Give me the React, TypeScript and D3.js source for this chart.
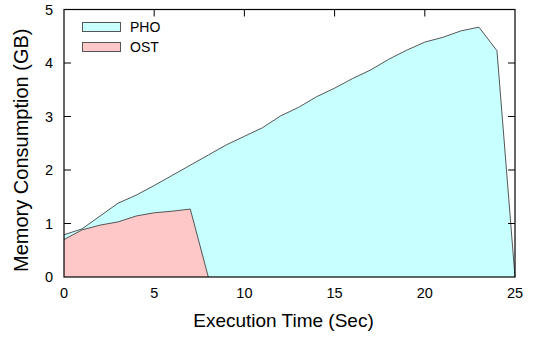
import * as d3 from 'd3';

// execution time (sec)
const phoTime = [0, 1, 2, 3, 4, 5, 6, 7, 8, 9, 10, 11, 12, 13, 14, 15, 16, 17, 18, 19, 20, 21, 22, 23, 24, 25];
const phoMem = [0.79, 0.9, 1.14, 1.38, 1.53, 1.71, 1.9, 2.09, 2.28, 2.47, 2.63, 2.79, 3.01, 3.17, 3.37, 3.53, 3.71, 3.87, 4.07, 4.24, 4.39, 4.48, 4.6, 4.67, 4.23, 0];
const ostTime = [0, 1, 2, 3, 4, 5, 6, 7, 8];
const ostMem = [0.7, 0.88, 0.97, 1.03, 1.14, 1.2, 1.23, 1.27, 0];
const xTicks = [0, 5, 10, 15, 20, 25];
const yTicks = [0, 1, 2, 3, 4, 5];
const legendLabels = ['PHO', 'OST'];

const width = 535;
const height = 337;
const margin = { top: 9.5, right: 20, bottom: 60, left: 64 };
const font = '"Liberation Sans", Arial, Helvetica, sans-serif';

export default function App() {
  const x = d3.scaleLinear().domain([0, 25]).range([margin.left, width - margin.right]);
  const y = d3.scaleLinear().domain([0, 5]).range([height - margin.bottom, margin.top]);
  const y0 = y(0);

  const area = d3
    .area<[number, number]>()
    .x(d => x(d[0]))
    .y0(y0)
    .y1(d => y(d[1]));
  const line = d3
    .line<[number, number]>()
    .x(d => x(d[0]))
    .y(d => y(d[1]));

  const pho: [number, number][] = phoTime.map((t, i) => [t, phoMem[i]]);
  const ost: [number, number][] = ostTime.map((t, i) => [t, ostMem[i]]);

  const fills = ['#c8ffff', '#ffc8c8'];
  const left = x(0);
  const right = x(25);
  const top = y(5);
  const tick = 7;

  return (
    <svg width={width} height={height} style={{ position: 'absolute', left: 0, top: 0 }}>
      {/* bottom ticks sit under the areas */}
      {xTicks.slice(1, -1).map(t => (
        <line key={'b' + t} x1={x(t)} x2={x(t)} y1={y0} y2={y0 - tick} stroke="#000" />
      ))}
      <path d={area(pho) || ''} fill={fills[0]} />
      <path d={line(pho) || ''} fill="none" stroke="#555" strokeWidth={1} />
      <path d={area(ost) || ''} fill={fills[1]} />
      <path d={line(ost) || ''} fill="none" stroke="#555" strokeWidth={1} />

      <rect x={left} y={top} width={right - left} height={y0 - top} fill="none" stroke="#000" strokeWidth={1.2} />
      {xTicks.slice(1, -1).map(t => (
        <line key={'t' + t} x1={x(t)} x2={x(t)} y1={top} y2={top + tick} stroke="#000" />
      ))}
      {yTicks.slice(1, -1).map(v => (
        <g key={'y' + v}>
          <line x1={left} x2={left + tick} y1={y(v)} y2={y(v)} stroke="#000" />
          <line x1={right} x2={right - tick} y1={y(v)} y2={y(v)} stroke="#000" />
        </g>
      ))}

      {xTicks.map(t => (
        <text key={'xl' + t} x={x(t)} y={y0 + 21} textAnchor="middle" fontFamily={font} fontSize={14.5}>
          {t}
        </text>
      ))}
      {yTicks.map(v => (
        <text key={'yl' + v} x={left - 11} y={y(v) + 5} textAnchor="end" fontFamily={font} fontSize={14.5}>
          {v}
        </text>
      ))}

      <text x={(left + right) / 2 - 6} y={327} textAnchor="middle" fontFamily={font} fontSize={19}>
        Execution Time (Sec)
      </text>
      <text
        transform={`translate(28,${(top + y0) / 2 + 7}) rotate(-90)`}
        textAnchor="middle"
        fontFamily={font}
        fontSize={20}
      >
        Memory Consumption (GB)
      </text>

      {legendLabels.map((name, i) => (
        <g key={name} transform={`translate(82,${22 + i * 20})`}>
          <rect x={0.5} y={0.5} width={38} height={9} fill={fills[i]} stroke="#555" />
          <text x={48} y={10} fontFamily={font} fontSize={14}>
            {name}
          </text>
        </g>
      ))}
    </svg>
  );
}
